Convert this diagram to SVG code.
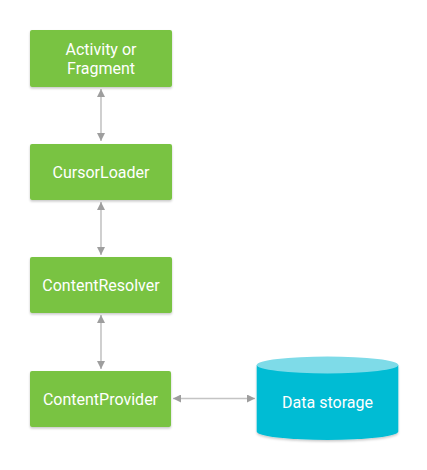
<svg xmlns="http://www.w3.org/2000/svg" width="427" height="470" viewBox="0 0 427 470">
<style>
.box{fill:#79C343;}
.lbl{font-family:Roboto,"Liberation Sans",sans-serif;font-size:16px;fill:#ffffff;text-anchor:middle;}
.conn{stroke:#c4c4c4;stroke-width:1.6;fill:none;}
</style>
<defs>
<filter id="sh" x="-10%" y="-10%" width="120%" height="130%">
<feDropShadow dx="0" dy="1.5" stdDeviation="0.8" flood-color="#000" flood-opacity="0.22"/>
</filter>
<marker id="ah" viewBox="0 0 10 10" refX="10" refY="5" markerWidth="8" markerHeight="8" markerUnits="userSpaceOnUse" orient="auto-start-reverse">
<path d="M0,0 L10,5 L0,10 z" fill="#9e9e9e"/>
</marker>
</defs>
<rect width="427" height="470" fill="#ffffff"/>
<g id="connectors">
<line class="conn" x1="101" y1="89" x2="101" y2="141" marker-start="url(#ah)" marker-end="url(#ah)"/>
<line class="conn" x1="101" y1="202" x2="101" y2="255" marker-start="url(#ah)" marker-end="url(#ah)"/>
<line class="conn" x1="101" y1="315" x2="101" y2="369" marker-start="url(#ah)" marker-end="url(#ah)"/>
<line class="conn" x1="173" y1="398.5" x2="255" y2="398.5" marker-start="url(#ah)" marker-end="url(#ah)"/>
</g>
<g id="activity">
<rect class="box" x="30" y="30" width="142" height="57" rx="2" filter="url(#sh)"/>
<text class="lbl" x="101" y="55">Activity or</text>
<text class="lbl" x="101" y="73.5">Fragment</text>
</g>
<g id="cursorloader">
<rect class="box" x="30" y="144" width="142" height="56" rx="2" filter="url(#sh)"/>
<text class="lbl" x="101" y="177.7">CursorLoader</text>
</g>
<g id="contentresolver">
<rect class="box" x="30" y="257" width="142" height="56" rx="2" filter="url(#sh)"/>
<text class="lbl" x="101" y="290.7">ContentResolver</text>
</g>
<g id="contentprovider">
<rect class="box" x="30" y="371" width="141" height="56" rx="2" filter="url(#sh)"/>
<text class="lbl" x="100.5" y="404.5">ContentProvider</text>
</g>
<g id="datastorage">
<path d="M256.7,365 L256.7,431.5 A70.8,8.5 0 0 0 398.3,431.5 L398.3,365 Z" fill="#00BCD4" filter="url(#sh)"/>
<ellipse cx="327.5" cy="365" rx="70.8" ry="8.4" fill="#7EDBE8"/>
<text class="lbl" x="327.5" y="408.3">Data storage</text>
</g>
</svg>
